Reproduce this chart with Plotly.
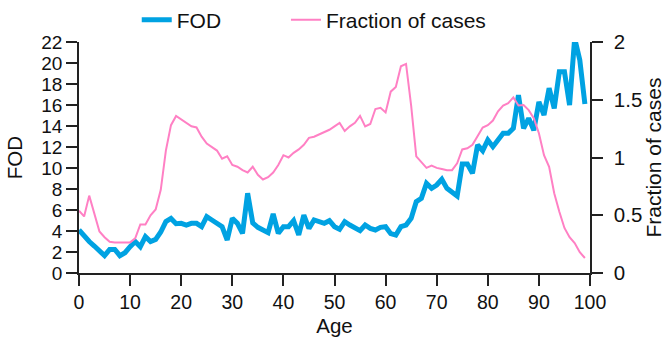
import plotly.graph_objects as go

ages = list(range(0, 100))

fod = [4.1, 3.46, 3.0, 2.57, 2.03, 1.65, 2.25, 2.25, 1.65, 1.93,
       2.5, 3.0, 2.5, 3.46, 3.0, 3.2, 3.9, 4.9, 5.2, 4.7,
       4.73, 4.57, 4.73, 4.73, 4.41, 5.37, 5.05, 4.73, 4.41, 3.14,
       5.2, 4.73, 3.78, 7.6, 4.76, 4.35, 4.1, 3.84, 5.62, 3.78,
       4.41, 4.41, 4.98, 3.62, 5.52, 4.25, 5.05, 4.89, 4.73, 4.98,
       4.41, 4.16, 4.89, 4.57, 4.35, 4.03, 4.57, 4.25, 4.1, 4.35,
       4.41, 3.75, 3.62, 4.41, 4.57, 5.2, 6.79, 7.11, 8.54, 8.06,
       8.38, 8.92, 8.06, 7.75, 7.33, 10.38, 10.38, 9.49, 12.19, 11.65,
       12.67, 12.03, 12.67, 13.3, 13.3, 13.78, 16.95, 13.78, 14.73, 13.6,
       16.3, 15.05, 17.6, 15.68, 19.17, 19.17, 16.0, 22.35, 20.3, 16.1]

fraction = [0.54, 0.49, 0.67, 0.52, 0.36, 0.31, 0.27, 0.265, 0.265, 0.265,
            0.265, 0.30, 0.42, 0.42, 0.50, 0.55, 0.72, 1.06, 1.28, 1.36,
            1.33, 1.30, 1.27, 1.26, 1.18, 1.12, 1.09, 1.06, 0.99, 1.01,
            0.935, 0.92, 0.89, 0.87, 0.92, 0.85, 0.81, 0.83, 0.87, 0.935,
            1.02, 1.0, 1.04, 1.07, 1.11, 1.17, 1.18, 1.20, 1.22, 1.24,
            1.27, 1.30, 1.23, 1.27, 1.30, 1.36, 1.27, 1.29, 1.42, 1.43,
            1.39, 1.57, 1.61, 1.79, 1.81, 1.45, 1.01, 0.96, 0.91, 0.93,
            0.91, 0.90, 0.89, 0.89, 0.95, 1.07, 1.08, 1.11, 1.19, 1.26,
            1.28, 1.32, 1.40, 1.45, 1.47, 1.52, 1.45, 1.455, 1.41, 1.34,
            1.21, 1.02, 0.92, 0.69, 0.53, 0.39, 0.31, 0.26, 0.18, 0.13]

x_ticks = [0, 10, 20, 30, 40, 50, 60, 70, 80, 90, 100]
fod_ticks = [0, 2, 4, 6, 8, 10, 12, 14, 16, 18, 20, 22]
frac_ticks = [0, 0.5, 1, 1.5, 2]

BLUE = "#00A2E2"
PINK = "#FF80C4"
FONT = "Liberation Sans, Arial, sans-serif"

fig = go.Figure()
fig.add_trace(go.Scatter(x=ages, y=fod, name="FOD", mode="lines",
                         line=dict(color=BLUE, width=5), legend="legend"))
fig.add_trace(go.Scatter(x=ages, y=fraction, name="Fraction of cases", mode="lines",
                         line=dict(color=PINK, width=2), yaxis="y2", legend="legend2"))

axis_common = dict(showline=True, linecolor="#222", linewidth=1.5, ticks="outside",
                   ticklen=11, tickwidth=1.5, tickcolor="#222", showgrid=False,
                   zeroline=False)

leg_common = dict(orientation="h", yanchor="middle", y=1.095, xanchor="left",
                  font=dict(size=21, color="#111"), bgcolor="rgba(0,0,0,0)",
                  borderwidth=0)

fig.update_layout(
    width=666, height=337,
    margin=dict(l=79, r=76, t=42, b=64, autoexpand=False),
    paper_bgcolor="white", plot_bgcolor="white",
    font=dict(family=FONT, size=20, color="#111"),
    showlegend=True,
    legend=dict(x=0.113, **leg_common),
    legend2=dict(x=0.405, **leg_common),
    xaxis=dict(range=[0, 100], tickvals=x_ticks, tickfont=dict(size=19.5, color="#111"),
               title=dict(text="Age", standoff=8, font=dict(size=20.5)), **axis_common),
    yaxis=dict(range=[0, 22], tickvals=fod_ticks, tickfont=dict(size=19, color="#111"),
               title=dict(text="FOD", standoff=13, font=dict(size=20.5)), **axis_common),
    yaxis2=dict(range=[0, 2], tickvals=frac_ticks, overlaying="y", side="right",
                tickfont=dict(size=20.5, color="#111"), ticklabelstandoff=7,
                title=dict(text="Fraction of cases", standoff=1, font=dict(size=21)),
                **axis_common),
)

fig.write_html("out.html")
